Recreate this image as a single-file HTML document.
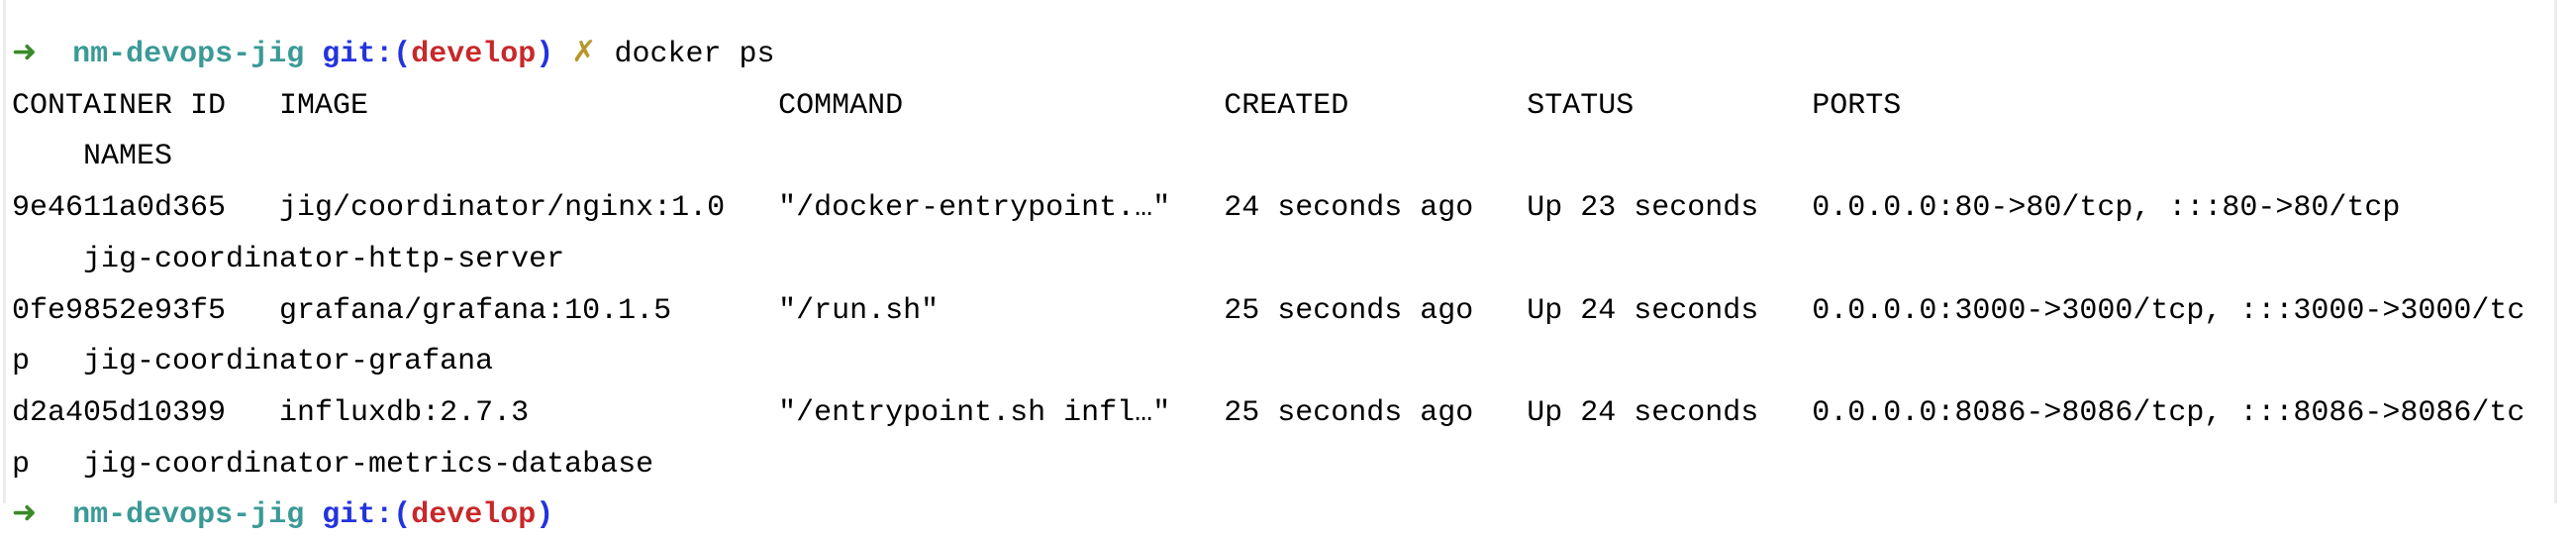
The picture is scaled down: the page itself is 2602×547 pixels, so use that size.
<!DOCTYPE html>
<html><head><meta charset="utf-8"><style>
html,body{margin:0;padding:0;width:2602px;height:508px;overflow:hidden;background:#fff}
.l{position:absolute;left:3px;top:0;width:3px;height:508px;background:#ececf0}
.r{position:absolute;left:2580px;top:0;width:3px;height:508px;background:#ececf0}
pre{position:absolute;left:12px;top:30px;margin:0;font-family:"Liberation Mono",monospace;font-size:30px;line-height:51.7px;color:#000;white-space:pre}
.g{color:#3a8a2a}.t{color:#3a9a96;font-weight:bold}.b{color:#2233dd;font-weight:bold}.d{color:#c8282a;font-weight:bold}.y{color:#b8962a}
</style></head><body><div class="l"></div><div class="r"></div>
<pre><span class="g">➜</span>  <span class="t">nm-devops-jig</span> <span class="b">git:(</span><span class="d">develop</span><span class="b">)</span> <span class="y">✗</span> docker ps
CONTAINER ID   IMAGE                       COMMAND                  CREATED          STATUS          PORTS
    NAMES
9e4611a0d365   jig/coordinator/nginx:1.0   "/docker-entrypoint.…"   24 seconds ago   Up 23 seconds   0.0.0.0:80->80/tcp, :::80->80/tcp
    jig-coordinator-http-server
0fe9852e93f5   grafana/grafana:10.1.5      "/run.sh"                25 seconds ago   Up 24 seconds   0.0.0.0:3000->3000/tcp, :::3000->3000/tc
p   jig-coordinator-grafana
d2a405d10399   influxdb:2.7.3              "/entrypoint.sh infl…"   25 seconds ago   Up 24 seconds   0.0.0.0:8086->8086/tcp, :::8086->8086/tc
p   jig-coordinator-metrics-database
<span class="g">➜</span>  <span class="t">nm-devops-jig</span> <span class="b">git:(</span><span class="d">develop</span><span class="b">)</span></pre>
</body></html>
